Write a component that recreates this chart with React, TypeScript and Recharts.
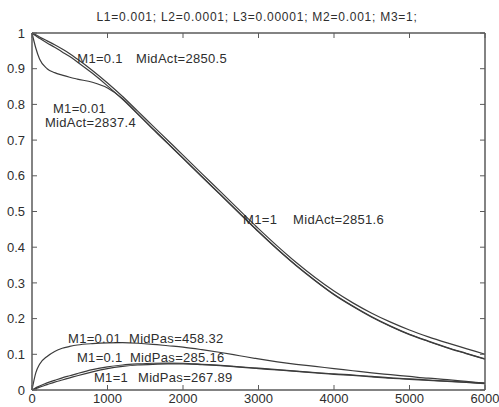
import React from "react";
import { LineChart, Line, XAxis, YAxis, ReferenceDot } from "recharts";

// time grid shared by all six curves
const xs = [
  0, 50, 100, 200, 300, 400, 500, 600, 800, 1000, 1200, 1400, 1600, 1800, 2000,
  2250, 2500, 2750, 3000, 3250, 3500, 3750, 4000, 4250, 4500, 4750, 5000, 5250,
  5500, 5750, 6000,
];

// active fraction
const act1 = [
  1.0, 0.995, 0.989, 0.978, 0.967, 0.955, 0.942, 0.927, 0.895, 0.86, 0.822, 0.781,
  0.74, 0.699, 0.658, 0.606, 0.555, 0.503, 0.452, 0.403, 0.357, 0.315, 0.277,
  0.244, 0.215, 0.19, 0.168, 0.149, 0.132, 0.116, 0.1,
];
const act01 = [
  1.0, 0.992, 0.985, 0.972, 0.96, 0.947, 0.934, 0.919, 0.887, 0.852, 0.814, 0.773,
  0.732, 0.691, 0.65, 0.598, 0.547, 0.495, 0.444, 0.395, 0.349, 0.307, 0.268,
  0.235, 0.205, 0.179, 0.156, 0.137, 0.119, 0.103, 0.087,
];
const act001 = [
  1.0, 0.958, 0.927, 0.9, 0.889, 0.882, 0.876, 0.871, 0.862, 0.846, 0.816, 0.774,
  0.731, 0.69, 0.649, 0.597, 0.546, 0.494, 0.443, 0.394, 0.348, 0.306, 0.267,
  0.234, 0.204, 0.178, 0.155, 0.136, 0.118, 0.102, 0.086,
];

// passive fraction
const pas001 = [
  0, 0.048, 0.072, 0.094, 0.108, 0.117, 0.122, 0.126, 0.13, 0.132, 0.1325, 0.131,
  0.128, 0.124, 0.12, 0.113, 0.105, 0.096, 0.087, 0.079, 0.072, 0.066, 0.06,
  0.054, 0.048, 0.043, 0.038, 0.033, 0.029, 0.024, 0.019,
];
const pas01 = [
  0, 0.006, 0.011, 0.02, 0.027, 0.034, 0.04, 0.046, 0.057, 0.065, 0.07, 0.073,
  0.075, 0.0755, 0.075, 0.072, 0.069, 0.065, 0.061, 0.057, 0.053, 0.049, 0.045,
  0.042, 0.038, 0.034, 0.031, 0.028, 0.025, 0.022, 0.019,
];
const pas1 = [
  0, 0.004, 0.008, 0.015, 0.022, 0.028, 0.034, 0.04, 0.051, 0.06, 0.066, 0.07,
  0.072, 0.073, 0.073, 0.071, 0.068, 0.064, 0.06, 0.056, 0.052, 0.048, 0.044,
  0.041, 0.037, 0.033, 0.03, 0.027, 0.024, 0.021, 0.018,
];

const xTicks = [0, 1000, 2000, 3000, 4000, 5000, 6000];
const yTicks = [0, 0.1, 0.2, 0.3, 0.4, 0.5, 0.6, 0.7, 0.8, 0.9, 1];

const title = "L1=0.001; L2=0.0001; L3=0.00001; M2=0.001; M3=1;";

// text() annotations, in data coordinates
const notes = [
  { x: 600, y: 0.93, text: "M1=0.1" },
  { x: 1378, y: 0.93, text: "MidAct=2850.5" },
  { x: 278, y: 0.79, text: "M1=0.01" },
  { x: 172, y: 0.751, text: "MidAct=2837.4" },
  { x: 2796, y: 0.479, text: "M1=1" },
  { x: 3458, y: 0.479, text: "MidAct=2851.6" },
  { x: 477, y: 0.146, text: "M1=0.01" },
  { x: 1285, y: 0.146, text: "MidPas=458.32" },
  { x: 596, y: 0.092, text: "M1=0.1" },
  { x: 1298, y: 0.092, text: "MidPas=285.16" },
  { x: 821, y: 0.036, text: "M1=1" },
  { x: 1404, y: 0.036, text: "MidPas=267.89" },
];

const data = xs.map((x, i) => ({
  x,
  act1: act1[i],
  act01: act01[i],
  act001: act001[i],
  pas001: pas001[i],
  pas01: pas01[i],
  pas1: pas1[i],
}));

const FONT = "'Liberation Sans', Arial, sans-serif";
const AXIS = "#5a5a5a";
const INK = "#2e2e2e";
const LINE = "#3c3c3c";

const fmtY = (v: number) => (v === 0 ? "0" : v === 1 ? "1" : v.toFixed(1));

const BottomTick = (p: any) => (
  <g>
    <line x1={p.x} x2={p.x} y1={p.y} y2={p.y - 5} stroke={AXIS} />
    <text x={p.x} y={p.y + 13} textAnchor="middle" fontSize={13} fill={INK} fontFamily={FONT}>
      {p.payload.value}
    </text>
  </g>
);

const TopTick = (p: any) => (
  <line x1={p.x} x2={p.x} y1={p.y} y2={p.y + 5} stroke={AXIS} />
);

const LeftTick = (p: any) => (
  <g>
    <line x1={p.x} x2={p.x + 5} y1={p.y} y2={p.y} stroke={AXIS} />
    <text x={p.x - 7} y={p.y} dy="0.36em" textAnchor="end" fontSize={13} fill={INK} fontFamily={FONT}>
      {fmtY(p.payload.value)}
    </text>
  </g>
);

const RightTick = (p: any) => (
  <line x1={p.x} x2={p.x - 5} y1={p.y} y2={p.y} stroke={AXIS} />
);

const series = ["act1", "act01", "act001", "pas001", "pas01", "pas1"];

export default function App() {
  return (
    <div style={{ position: "absolute", left: 0, top: 0, width: 499, height: 407, background: "#fff" }}>
      <div
        style={{
          position: "absolute",
          top: 10,
          left: 0,
          width: 514,
          textAlign: "center",
          fontFamily: FONT,
          fontSize: 12,
          letterSpacing: 0.75,
          color: INK,
          whiteSpace: "pre",
        }}
      >
        {title}
      </div>
      <LineChart width={499} height={407} data={data} margin={{ top: 32, right: 13, bottom: 0, left: 0 }}>
        <XAxis
          dataKey="x"
          type="number"
          domain={[0, 6000]}
          ticks={xTicks}
          height={17}
          tickSize={0}
          tickMargin={0}
          tickLine={false}
          tick={BottomTick}
          axisLine={{ stroke: AXIS, strokeWidth: 1.5 }}
          interval={0}
        />
        <XAxis
          xAxisId="top"
          orientation="top"
          dataKey="x"
          type="number"
          domain={[0, 6000]}
          ticks={xTicks}
          height={1}
          tickSize={0}
          tickMargin={0}
          tickLine={false}
          tick={TopTick}
          axisLine={{ stroke: AXIS, strokeWidth: 1.5 }}
          interval={0}
        />
        <YAxis
          type="number"
          domain={[0, 1]}
          ticks={yTicks}
          width={32}
          tickSize={0}
          tickMargin={0}
          tickLine={false}
          tick={LeftTick}
          axisLine={{ stroke: AXIS, strokeWidth: 1.5 }}
          interval={0}
        />
        <YAxis
          yAxisId="right"
          orientation="right"
          type="number"
          domain={[0, 1]}
          ticks={yTicks}
          width={1}
          tickSize={0}
          tickMargin={0}
          tickLine={false}
          tick={RightTick}
          axisLine={{ stroke: AXIS, strokeWidth: 1.5 }}
          interval={0}
        />
        {series.map((k) => (
          <Line
            key={k}
            type="monotone"
            dataKey={k}
            stroke={LINE}
            strokeWidth={1.2}
            dot={false}
            isAnimationActive={false}
          />
        ))}
        {/* invisible copy so the top/right frame axes get drawn */}
        <Line
          xAxisId="top"
          yAxisId="right"
          dataKey="act1"
          stroke="none"
          dot={false}
          activeDot={false}
          legendType="none"
          isAnimationActive={false}
        />
        {notes.map((n, i) => (
          <ReferenceDot
            key={i}
            x={n.x}
            y={n.y}
            r={1}
            fill="none"
            stroke="none"
            ifOverflow="visible"
            label={(p: any) => (
              <text
                x={p.viewBox.x + 1}
                y={p.viewBox.y + 1}
                dy="0.36em"
                fontSize={13}
                letterSpacing={0.3}
                fill={INK}
                fontFamily={FONT}
              >
                {n.text}
              </text>
            )}
          />
        ))}
      </LineChart>
    </div>
  );
}
